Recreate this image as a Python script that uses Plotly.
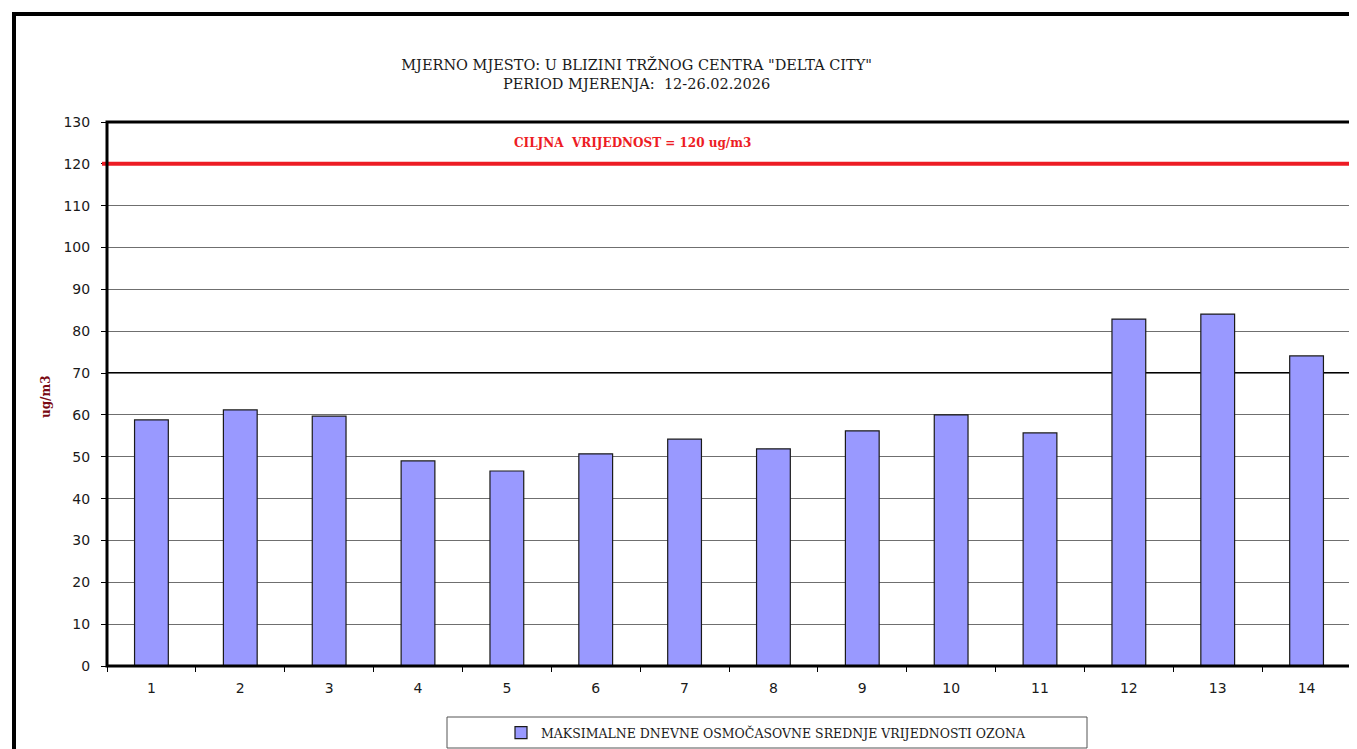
import plotly.graph_objects as go

days = ["1", "2", "3", "4", "5", "6", "7", "8", "9", "10", "11", "12", "13", "14"]
ozone_max8h = [58.8, 61.2, 59.7, 49.0, 46.6, 50.7, 54.2, 51.9, 56.2, 60.0, 55.7, 82.9, 84.1, 74.1]
target_value = 120
y_ticks = list(range(0, 131, 10))

title_text = 'MJERNO MJESTO: U BLIZINI TRŽNOG CENTRA "DELTA CITY"<br>PERIOD MJERENJA:  12-26.02.2026'
series_name = "MAKSIMALNE DNEVNE OSMOČASOVNE SREDNJE VRIJEDNOSTI OZONA"
target_label = "CILJNA  VRIJEDNOST = 120 ug/m3"

font_family = "DejaVu Serif, Liberation Serif, serif"
tick_family = "DejaVu Sans, Verdana, sans-serif"
text_color = "#1a1a1a"

fig = go.Figure()
fig.add_trace(go.Bar(
    x=days, y=ozone_max8h, name=series_name,
    marker=dict(color="#9999ff", line=dict(color="#1a1a1a", width=1.2)),
    width=0.38,
))

# plot area (page px): left 107, right 1351, top 122, bottom 666; page has 8px body margin
fig.update_layout(
    width=1349, height=741,
    margin=dict(l=99, r=6, t=114, b=83, autoexpand=False),
    paper_bgcolor="white", plot_bgcolor="white",
    font=dict(family=font_family, color=text_color),
    title=dict(text=title_text, x=0.466, xanchor="center", y=0.916, yanchor="middle",
               font=dict(size=14.5, family=font_family, color=text_color)),
    showlegend=True,
    legend=dict(orientation="h", xref="container", yref="container",
                x=(766 - 8) / 1349, xanchor="center", y=1 - (733 - 8) / 741, yanchor="middle",
                font=dict(size=12.5, family=font_family, color=text_color),
                bgcolor="rgba(0,0,0,0)", itemwidth=30),
)

fig.update_xaxes(
    type="category", range=[-0.5, 13.5],
    tickson="boundaries", ticks="outside", ticklen=5, tickcolor="black",
    showgrid=False, showline=False, ticklabelstandoff=12,
    tickfont=dict(size=14, family=tick_family, color=text_color),
)
fig.update_yaxes(
    range=[0, 130], tickvals=y_ticks, ticks="outside", ticklen=5, tickcolor="black",
    showgrid=True, gridcolor="#6f6f6f", gridwidth=1, zeroline=False, showline=False,
    ticklabelstandoff=8,
    tickfont=dict(size=14, family=tick_family, color=text_color),
)

shapes = []
shapes.append(dict(type="line", xref="paper", yref="y", x0=0, x1=1, y0=70, y1=70,
                   line=dict(color="black", width=2), layer="below"))
shapes.append(dict(type="line", xref="paper", yref="y", x0=-0.004, x1=1, y0=target_value, y1=target_value,
                   line=dict(color="#ed1c24", width=4), layer="above"))
shapes.append(dict(type="rect", xref="paper", yref="paper", x0=0, x1=1, y0=0, y1=1,
                   line=dict(color="black", width=3), layer="above"))
shapes.append(dict(type="rect", xref="paper", yref="paper", x0=(14 - 107) / 1244, x1=1.2,
                   y0=-0.5, y1=(666 - 14) / 544,
                   line=dict(color="black", width=4), layer="above"))
shapes.append(dict(type="rect", xref="paper", yref="paper",
                   x0=(447 - 107) / 1244, x1=(1087 - 107) / 1244,
                   y0=(666 - 748) / 544, y1=(666 - 717) / 544,
                   line=dict(color="#555555", width=1), layer="above"))
fig.update_layout(shapes=shapes)

fig.add_annotation(text="<b>" + target_label + "</b>", xref="paper", yref="paper",
                   x=(632 - 107) / 1244, y=(666 - 143) / 544, showarrow=False,
                   xanchor="center", yanchor="middle",
                   font=dict(size=12, family=font_family, color="#ed1c24"))
fig.add_annotation(text="<b>ug/m3</b>", xref="paper", yref="paper",
                   x=(46 - 107) / 1244, y=(666 - 397) / 544, showarrow=False, textangle=-90,
                   xanchor="center", yanchor="middle",
                   font=dict(size=12, family=font_family, color="#7a0a14"))

fig.write_html("out.html")
